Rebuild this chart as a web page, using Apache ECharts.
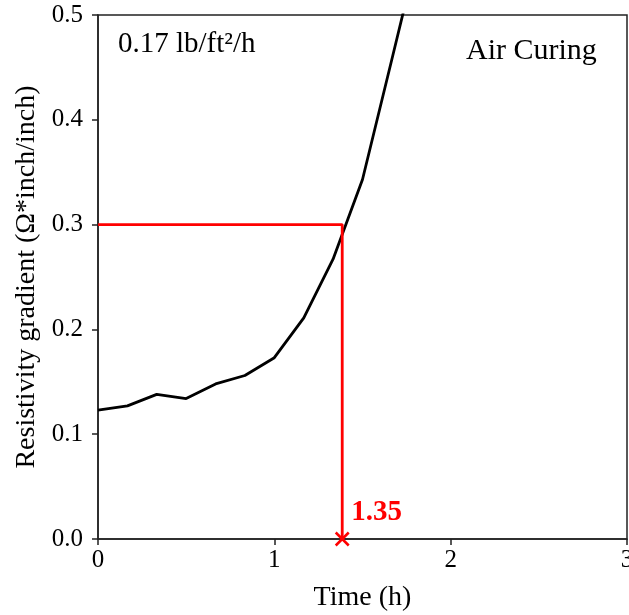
<!DOCTYPE html>
<html>

<head>
    <title>Resistivity gradient - Air Curing</title>
    <meta charset="utf-8">
    <script src="https://cdn.jsdelivr.net/npm/echarts@6/dist/echarts.min.js"></script>
    <style>
        body { margin: 0; background: #fff; }
    </style>
</head>

<body>
    <div id="main" style="width: 629px;height:615px;"></div>

    <script type="text/javascript">
        // measured curve (time in hours, gradient in ohm*inch/inch)
        var times = [0, 0.167, 0.333, 0.5, 0.667, 0.833, 1.0, 1.167, 1.333, 1.5, 1.667, 1.833];
        var gradient = [0.123, 0.127, 0.138, 0.134, 0.148, 0.156, 0.173, 0.211, 0.267, 0.343, 0.458, 0.573];

        // threshold read-off
        var threshold = 0.3;
        var crossTime = 1.385;
        var crossLabel = '1.35';

        var xTicks = [0, 1, 2, 3];
        var yTicks = [0, 0.1, 0.2, 0.3, 0.4, 0.5];

        var serif = 'Liberation Serif';

        var myChart = echarts.init(document.getElementById('main'));

        var curve = times.map(function (t, i) { return [t, gradient[i]]; });
        var guide = [[0, threshold], [crossTime, threshold], [crossTime, 0]];

        var option = {
            animation: false,
            backgroundColor: '#fff',
            grid: {
                left: 98,
                right: 2,
                top: 15,
                bottom: 76,
                containLabel: false,
                outerBoundsMode: 'none',
                show: true,
                borderColor: '#222',
                borderWidth: 1.5
            },
            xAxis: {
                type: 'value',
                min: xTicks[0],
                max: xTicks[xTicks.length - 1],
                interval: 1,
                name: 'Time (h)',
                nameLocation: 'middle',
                nameGap: 45,
                nameTextStyle: { fontFamily: serif, fontSize: 28, color: '#000' },
                axisLine: { show: true, lineStyle: { color: '#222', width: 1.5 } },
                axisTick: { show: true, length: 6, lineStyle: { color: '#222', width: 1.5 } },
                axisLabel: { fontFamily: serif, fontSize: 25, color: '#000', margin: 9 },
                splitLine: { show: false }
            },
            yAxis: {
                type: 'value',
                min: yTicks[0],
                max: yTicks[yTicks.length - 1],
                interval: 0.1,
                name: 'Resistivity gradient (Ω*inch/inch)',
                nameLocation: 'middle',
                nameGap: 56,
                nameTextStyle: { fontFamily: serif, fontSize: 28, color: '#000' },
                axisLine: { show: true, lineStyle: { color: '#222', width: 1.5 } },
                axisTick: { show: true, length: 6, lineStyle: { color: '#222', width: 1.5 } },
                axisLabel: {
                    fontFamily: serif, fontSize: 25, color: '#000', margin: 15,
                    formatter: function (v) { return v.toFixed(1); }
                },
                splitLine: { show: false }
            },
            graphic: [{
                type: 'text',
                left: 118,
                top: 30,
                style: { text: '0.17 lb/ft²/h', font: '29px "Liberation Serif"', fill: '#000' }
            }, {
                type: 'text',
                left: 466,
                top: 36,
                style: { text: 'Air Curing', font: '30px "Liberation Serif"', fill: '#000' }
            }],
            series: [{
                // the measured curve
                type: 'line',
                data: curve,
                showSymbol: false,
                clip: true,
                lineStyle: { color: '#000', width: 2.8 },
                z: 3
            }, {
                // red guide lines at the threshold
                type: 'line',
                data: guide,
                showSymbol: false,
                clip: true,
                lineStyle: { color: '#ff0000', width: 2.8 },
                z: 4
            }, {
                type: 'scatter',
                data: [[crossTime, 0]],
                symbol: 'path://M0,0L10,10M10,0L0,10',
                symbolSize: 13,
                clip: false,
                itemStyle: { color: 'none', borderColor: '#ff0000', borderWidth: 2.5, opacity: 1 },
                label: {
                    show: true,
                    formatter: crossLabel,
                    position: 'right',
                    offset: [-5, -26],
                    fontFamily: serif,
                    fontSize: 29,
                    fontWeight: 'bold',
                    color: '#ff0000'
                },
                z: 5
            }]
        };

        myChart.setOption(option);
    </script>
</body>

</html>
